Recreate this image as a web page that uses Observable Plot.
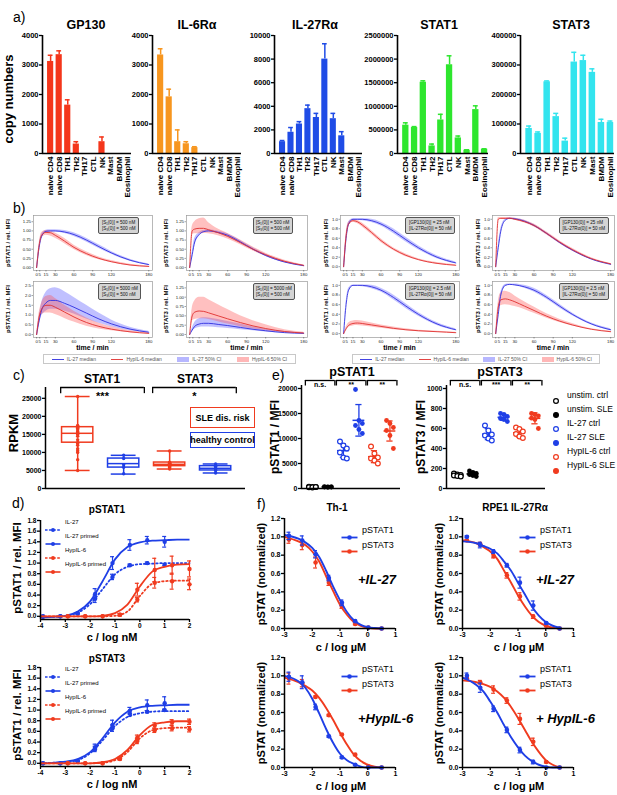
<!DOCTYPE html>
<html><head><meta charset="utf-8">
<script src="https://cdn.jsdelivr.net/npm/d3@7"></script>
<script src="https://cdn.jsdelivr.net/npm/@observablehq/plot@0.6"></script>
<style>
html,body{margin:0;padding:0;background:#fff;}
#fig{position:relative;width:617px;height:795px;overflow:hidden;background:#fff;}
.t{position:absolute;white-space:nowrap;}
</style></head><body><div id="fig"></div>
<script>
const FONT = "'Liberation Sans', Arial, Helvetica, sans-serif";
const BLUE = "#1f3fe6", RED = "#f03b1f";

// ---------- panel a data ----------
const cellTypes = ["naive CD4","naive CD8","TH1","TH2","TH17","CTL","NK","Mast","BMDM","Eosinophil"];
const gp130Copies = [3120,3350,1640,320,0,0,400,0,0,0];
const gp130Upper  = [3330,3480,1820,400,0,0,560,0,0,0];
const il6raCopies = [3340,1920,400,330,200,0,0,0,0,0];
const il6raUpper  = [3550,2180,800,400,230,0,0,0,0,0];
const il27raCopies = [1000,1800,2500,3800,3050,8000,2950,1500,0,0];
const il27raUpper  = [1100,2200,2700,4100,3400,9300,3400,1850,0,0];
const stat1Copies = [600000,550000,1510000,160000,710000,1880000,330000,70000,930000,90000];
const stat1Upper  = [650000,570000,1540000,200000,830000,2070000,370000,80000,1010000,100000];
const stat3Copies = [85000,68000,243000,125000,42000,310000,315000,275000,105000,105000];
const stat3Upper  = [93000,73000,246000,136000,52000,343000,333000,287000,116000,110000];

// ---------- panel b data ----------
const bTimes = [0,4,8,15,22,30,45,60,80,100,120,150,180];
const bTimeTicks = [0,5,15,30,60,90,120,180];
const b1IlMed = [0,0.55,0.85,0.99,1.0,1.0,0.97,0.9,0.75,0.57,0.4,0.2,0.08];
const b1IlLo  = [0,0.5,0.8,0.95,0.97,0.97,0.93,0.85,0.7,0.52,0.36,0.17,0.06];
const b1IlHi  = [0,0.6,0.9,1.02,1.03,1.03,1.01,0.95,0.8,0.62,0.44,0.23,0.1];
const b1HyMed = [0,0.6,0.88,0.96,0.95,0.88,0.72,0.55,0.38,0.25,0.16,0.07,0.03];
const b1HyLo  = [0,0.55,0.8,0.88,0.86,0.8,0.65,0.49,0.33,0.21,0.13,0.05,0.02];
const b1HyHi  = [0,0.65,0.95,1.01,1.0,0.94,0.79,0.61,0.43,0.29,0.19,0.09,0.04];
const b2IlMed = [0,0.35,0.7,0.9,0.98,1.0,0.96,0.88,0.7,0.5,0.33,0.15,0.05];
const b2IlLo  = [0,0.28,0.6,0.85,0.94,0.97,0.93,0.84,0.66,0.47,0.3,0.13,0.04];
const b2IlHi  = [0,0.42,0.8,0.95,1.01,1.03,0.99,0.92,0.74,0.54,0.36,0.17,0.06];
const b2HyMed = [0,1.0,1.05,1.07,1.07,1.03,0.95,0.85,0.68,0.5,0.35,0.17,0.06];
const b2HyLo  = [0,0.9,0.92,0.92,0.93,0.92,0.87,0.78,0.62,0.45,0.31,0.14,0.05];
const b2HyHi  = [0,1.12,1.25,1.33,1.35,1.22,1.05,0.93,0.75,0.56,0.39,0.2,0.07];
const b3IlMed = [0,0.6,0.9,1.0,1.0,1.0,0.97,0.9,0.75,0.57,0.4,0.2,0.08];
const b3IlLo  = [0,0.55,0.86,0.98,0.98,0.97,0.93,0.86,0.7,0.52,0.36,0.17,0.06];
const b3IlHi  = [0,0.65,0.94,1.01,1.01,1.01,1.0,0.94,0.8,0.62,0.44,0.23,0.1];
const b3HyMed = [0,0.65,0.9,0.97,0.95,0.88,0.72,0.55,0.37,0.24,0.15,0.07,0.03];
const b3HyLo  = [0,0.6,0.86,0.94,0.91,0.84,0.68,0.51,0.34,0.21,0.13,0.05,0.02];
const b3HyHi  = [0,0.7,0.94,0.99,0.98,0.92,0.76,0.59,0.4,0.27,0.17,0.09,0.04];
const b4IlMed = [0,0.4,0.75,0.98,1.02,1.01,0.96,0.87,0.7,0.51,0.35,0.16,0.05];
const b4IlLo  = [0,0.35,0.7,0.96,1.0,0.99,0.94,0.85,0.68,0.49,0.33,0.15,0.04];
const b4IlHi  = [0,0.45,0.8,1.0,1.03,1.02,0.98,0.89,0.72,0.53,0.37,0.17,0.06];
const b4HyMed = [0,1.0,1.02,1.02,1.02,1.0,0.95,0.87,0.7,0.52,0.36,0.17,0.06];
const b4HyLo  = [0,0.97,1.0,1.0,1.0,0.98,0.92,0.84,0.67,0.49,0.33,0.15,0.05];
const b4HyHi  = [0,1.03,1.04,1.04,1.04,1.02,0.98,0.9,0.73,0.55,0.39,0.19,0.07];
const b5IlMed = [0,0.7,1.25,1.62,1.75,1.75,1.6,1.4,1.1,0.8,0.55,0.28,0.12];
const b5IlLo  = [0,0.5,0.95,1.2,1.3,1.3,1.2,1.05,0.8,0.58,0.4,0.2,0.08];
const b5IlHi  = [0,0.9,1.6,2.15,2.35,2.4,2.2,1.9,1.5,1.1,0.75,0.38,0.17];
const b5HyMed = [0,0.9,1.3,1.5,1.5,1.4,1.15,0.9,0.62,0.42,0.28,0.14,0.06];
const b5HyLo  = [0,0.7,1.0,1.1,1.1,1.03,0.83,0.64,0.43,0.29,0.19,0.09,0.04];
const b5HyHi  = [0,1.1,1.6,1.95,2.0,1.85,1.5,1.2,0.85,0.58,0.4,0.2,0.09];
const b6IlMed = [0,0.12,0.22,0.28,0.3,0.3,0.27,0.24,0.19,0.14,0.1,0.05,0.03];
const b6IlLo  = [0,0.08,0.15,0.19,0.2,0.2,0.18,0.16,0.13,0.1,0.07,0.04,0.02];
const b6IlHi  = [0,0.17,0.32,0.42,0.45,0.44,0.4,0.35,0.28,0.2,0.14,0.08,0.04];
const b6HyMed = [0,0.5,0.6,0.63,0.62,0.58,0.5,0.42,0.32,0.23,0.16,0.08,0.04];
const b6HyLo  = [0,0.35,0.4,0.42,0.42,0.4,0.34,0.28,0.21,0.15,0.1,0.05,0.02];
const b6HyHi  = [0,0.7,0.9,1.0,1.0,0.93,0.8,0.67,0.5,0.37,0.26,0.13,0.06];
const b7IlMed = [0,0.6,0.9,1.0,1.0,1.0,0.97,0.9,0.75,0.57,0.4,0.2,0.08];
const b7IlLo  = [0,0.55,0.86,0.98,0.98,0.97,0.93,0.86,0.7,0.52,0.36,0.17,0.06];
const b7IlHi  = [0,0.65,0.94,1.01,1.01,1.01,1.0,0.94,0.8,0.62,0.44,0.23,0.1];
const b7HyMed = [0,0.1,0.17,0.21,0.22,0.21,0.18,0.15,0.11,0.08,0.06,0.04,0.02];
const b7HyLo  = [0,0.07,0.13,0.16,0.17,0.16,0.14,0.11,0.08,0.06,0.04,0.03,0.01];
const b7HyHi  = [0,0.13,0.22,0.26,0.27,0.26,0.22,0.18,0.14,0.1,0.07,0.05,0.03];
const b8IlMed = [0,0.4,0.8,1.0,1.02,1.01,0.97,0.9,0.75,0.57,0.4,0.2,0.08];
const b8IlLo  = [0,0.35,0.75,0.97,1.0,0.99,0.94,0.86,0.71,0.53,0.37,0.18,0.06];
const b8IlHi  = [0,0.45,0.85,1.02,1.03,1.03,1.0,0.94,0.79,0.61,0.43,0.22,0.1];
const b8HyMed = [0,0.55,0.7,0.72,0.7,0.66,0.57,0.48,0.36,0.26,0.18,0.09,0.04];
const b8HyLo  = [0,0.47,0.58,0.6,0.59,0.56,0.5,0.42,0.32,0.23,0.16,0.08,0.03];
const b8HyHi  = [0,0.65,0.84,0.88,0.85,0.78,0.66,0.55,0.41,0.3,0.21,0.1,0.05];

// ---------- panel c data ----------
const cGroups = ["STAT1 SLE","STAT1 healthy","STAT3 SLE","STAT3 healthy"];
const cMin = [5000,4000,5400,4300];
const cQ1  = [12700,5800,6200,5000];
const cMed = [15300,6900,6700,5600];
const cQ3  = [17000,8300,7200,6200];
const cMax = [25500,9200,10400,6800];
const cPoints = [
  [25500,17500,17300,17000,16700,16300,15800,15500,15000,14500,13500,12800,12500,12000,11000,10500,10000,8000,5000],
  [9200,8300,6600,5900,4100],
  [10400,7300,7100,7000,6900,6800,6700,6600,6500,6400,6300,6100,5800,5400],
  [6800,6200,5700,5400,5000,4300]
];
const cSignif = ["***","*"];

// ---------- panel e data ----------
const eGroups = ["unstim. ctrl","unstim. SLE","IL-27 ctrl","IL-27 SLE","HypIL-6 ctrl","HypIL-6 SLE"];
const ePSTAT1 = [
  [350,300,280,250,220,300],
  [380,340,300,280,250,320],
  [9400,8600,8000,7200,6200,6000],
  [19800,13600,13000,12600,11800,11000],
  [8400,7000,6200,6000,5600,5000],
  [13600,13000,12200,11600,10600,8000]
];
const ePSTAT3 = [
  [150,140,135,130,125,120],
  [175,160,150,140,130,120],
  [630,580,540,530,500,480],
  [750,740,720,700,690,670],
  [610,595,570,545,520,505],
  [750,740,727,703,690,600]
];
const eSig1 = ["n.s.","**","**"];
const eSig3 = ["n.s.","***","**"];

// ---------- panel d data ----------
const dDoseIL27 = [-3.9,-3.2,-2.5,-1.8,-1.1,-0.4,0.3,1.0];
const dDoseHyp  = [-2.9,-2.2,-1.5,-0.8,-0.1,0.6,1.3,2.0];
const dFitX = [-4,-3.5,-3,-2.5,-2,-1.5,-1,-0.5,0,0.5,1,1.5,2];
const d1IL27 = [0.0,0.0,0.05,0.33,0.74,0.96,1.0,0.97];
const d1IL27Err = [0.02,0.01,0.01,0.07,0.05,0.02,0.02,0.02];
const d1IL27P = [-0.01,0.0,0.06,0.42,1.0,1.34,1.43,1.40];
const d1IL27PErr = [0.01,0.01,0.01,0.1,0.12,0.1,0.07,0.1];
const d1Hyp = [0,0,0,0.03,0.31,0.63,0.66,0.6];
const d1HypErr = [0,0,0,0.02,0.04,0.1,0.15,0.1];
const d1HypP = [0,0,0,0.03,0.5,0.87,0.96,0.89];
const d1HypPErr = [0,0,0,0.02,0.12,0.22,0.17,0.15];
const d1FitIL27 = [-0.01,-0.01,0.01,0.07,0.23,0.51,0.79,0.93,0.98,0.99,1.0,1.0,1.0];
const d1FitIL27P = [-0.02,-0.01,0.01,0.09,0.28,0.66,1.07,1.3,1.39,1.42,1.43,1.44,1.44];
const d1FitHyp = [0,0,0,0,0,0,0.01,0.09,0.38,0.61,0.66,0.67,0.67];
const d1FitHypP = [0,0,0,0,0,0.01,0.06,0.22,0.56,0.84,0.93,0.97,0.98];
const d3IL27 = [0.0,0.0,0.04,0.27,0.66,0.93,0.97,1.0];
const d3IL27Err = [0.01,0.01,0.01,0.05,0.06,0.05,0.02,0.02];
const d3IL27P = [0.0,0.0,0.05,0.3,0.72,0.99,1.09,1.13];
const d3IL27PErr = [0.01,0.01,0.01,0.06,0.09,0.06,0.1,0.12];
const d3Hyp = [0,0,0,0.08,0.42,0.62,0.66,0.64];
const d3HypErr = [0,0,0,0.02,0.05,0.04,0.05,0.05];
const d3HypP = [0,0,0,0.09,0.48,0.71,0.77,0.78];
const d3HypPErr = [0,0,0,0.02,0.05,0.05,0.05,0.05];
const d3FitIL27 = [0,0.01,0.02,0.06,0.19,0.43,0.7,0.87,0.94,0.97,0.98,0.98,0.98];
const d3FitIL27P = [0,0.01,0.03,0.08,0.21,0.47,0.77,0.97,1.05,1.08,1.09,1.1,1.1];
const d3FitHyp = [0,0,0,0,0,0.01,0.06,0.21,0.47,0.62,0.66,0.67,0.67];
const d3FitHypP = [0,0,0,0,0,0.02,0.08,0.25,0.53,0.72,0.77,0.79,0.79];

// ---------- panel f data ----------
const fDose = [-2.84,-2.36,-1.88,-1.4,-0.93,-0.45,0.02,0.5];
const fFitX = [-3,-2.5,-2.25,-2,-1.75,-1.5,-1.25,-1,-0.75,-0.5,-0.25,0,0.25,0.5];
const f1S1 = [1.01,0.96,0.81,0.55,0.28,0.08,0.01,0.0];
const f1S1Err = [0.04,0.05,0.04,0.03,0.03,0.01,0,0];
const f1S3 = [0.97,0.91,0.72,0.5,0.24,0.05,0.01,0.0];
const f1S3Err = [0.04,0.05,0.06,0.03,0.02,0.01,0,0];
const f1FitS1 = [1.02,0.98,0.94,0.88,0.78,0.63,0.46,0.31,0.18,0.09,0.04,0.015,0.005,0];
const f1FitS3 = [1.0,0.95,0.91,0.84,0.73,0.57,0.41,0.26,0.15,0.07,0.03,0.01,0,0];
const f2S1 = [1.0,0.91,0.84,0.69,0.5,0.25,0.06,0.0];
const f2S1Err = [0.01,0.03,0.02,0.02,0.06,0.05,0.01,0];
const f2S3 = [0.96,0.92,0.79,0.58,0.35,0.13,0.03,0.0];
const f2S3Err = [0.01,0.02,0.02,0.03,0.04,0.02,0.01,0];
const f2FitS1 = [0.95,0.93,0.9,0.87,0.82,0.73,0.63,0.5,0.37,0.24,0.14,0.07,0.03,0.01];
const f2FitS3 = [0.96,0.93,0.89,0.84,0.76,0.63,0.5,0.36,0.24,0.14,0.07,0.03,0.01,0];
const f3S1 = [0.99,0.93,0.66,0.34,0.11,0.03,0.0,0.0];
const f3S1Err = [0.05,0.07,0.03,0.01,0.01,0.01,0,0];
const f3S3 = [0.97,0.92,0.77,0.57,0.36,0.14,0.01,0.0];
const f3S3Err = [0.06,0.04,0.01,0.01,0.01,0.01,0,0];
const f3FitS1 = [1.0,0.94,0.87,0.75,0.59,0.42,0.27,0.15,0.08,0.04,0.01,0,0,0];
const f3FitS3 = [0.98,0.93,0.89,0.84,0.76,0.65,0.52,0.38,0.25,0.14,0.07,0.03,0.01,0];
const f4S1 = [1.0,0.87,0.64,0.41,0.19,0.06,0.0,0.0];
const f4S1Err = [0.03,0.05,0.03,0.03,0.03,0.02,0,0];
const f4S3 = [0.97,0.93,0.85,0.73,0.53,0.28,0.06,0.0];
const f4S3Err = [0.01,0.02,0.04,0.03,0.06,0.04,0.01,0];
const f4FitS1 = [0.98,0.9,0.83,0.72,0.6,0.46,0.33,0.22,0.13,0.07,0.03,0.01,0,0];
const f4FitS3 = [0.95,0.93,0.91,0.88,0.83,0.76,0.66,0.54,0.41,0.28,0.17,0.08,0.03,0];

// ================= helpers =================
const root = document.getElementById("fig");

function txt(s, x, y, o = {}) {
  const d = document.createElement("div");
  d.className = "t";
  d.textContent = s;
  d.style.left = x + "px";
  d.style.top = y + "px";
  d.style.font = `${o.italic ? "italic" : "normal"} ${o.weight ?? "bold"} ${o.size ?? 10}px ${FONT}`;
  d.style.lineHeight = "1";
  d.style.color = o.color || "#000";
  const ax = o.anchor === "start" ? "0" : o.anchor === "end" ? "-100%" : "-50%";
  d.style.transform = `translate(${ax},-50%)` + (o.rotate ? ` rotate(${o.rotate}deg)` : "");
  root.appendChild(d);
  return d;
}

function chart(box, opts) {
  const [mt, mr, mb, ml] = box.m || [8, 8, 8, 8];
  const svg = Plot.plot({
    width: box.x1 - box.x0 + ml + mr,
    height: box.y1 - box.y0 + mt + mb,
    marginTop: mt, marginRight: mr, marginBottom: mb, marginLeft: ml,
    ...opts,
    style: Object.assign({background: "transparent", overflow: "visible", fontFamily: FONT, fontWeight: "bold", fontSize: "8px", color: "black"}, opts.style || {})
  });
  svg.style.position = "absolute";
  svg.style.left = (box.x0 - ml) + "px";
  svg.style.top = (box.y0 - mt) + "px";
  root.appendChild(svg);
  return svg;
}

function gpAxes(xd, yd, xt, yt, xf, yf, fs) {
  const m = [
    Plot.ruleX([xd[0]], {strokeWidth: 1.5}),
    Plot.ruleY([yd[0]], {strokeWidth: 1.5}),
    Plot.axisY({ticks: yt, tickFormat: yf, tickSize: 3, tickPadding: 1, strokeWidth: 1.3, label: null, fontSize: fs})
  ];
  if (xt) m.push(Plot.axisX({ticks: xt, tickFormat: xf, tickSize: 3, tickPadding: 1, strokeWidth: 1.3, label: null, fontSize: fs}));
  else m.push(Plot.axisX({ticks: [], label: null}));
  return m;
}

// ================= panel a =================
txt("a)", 13, 17, {size: 14, weight: "normal", anchor: "start"});
txt("copy numbers", 8, 99, {size: 13, rotate: -90});
const aCharts = [
  {title: "GP130", vals: gp130Copies, up: gp130Upper, color: "#f4361b", max: 4000, step: 1000, x0: 42, x1: 131, tx: 86},
  {title: "IL-6Rα", vals: il6raCopies, up: il6raUpper, color: "#f7961f", max: 4000, step: 1000, x0: 152, x1: 241, tx: 197},
  {title: "IL-27Rα", vals: il27raCopies, up: il27raUpper, color: "#1f4ce6", max: 10000, step: 2000, x0: 274, x1: 362, tx: 315},
  {title: "STAT1", vals: stat1Copies, up: stat1Upper, color: "#2ee62e", max: 2500000, step: 500000, x0: 397, x1: 488, tx: 439},
  {title: "STAT3", vals: stat3Copies, up: stat3Upper, color: "#33e4ee", max: 400000, step: 100000, x0: 520, x1: 614, tx: 571}
];
for (const a of aCharts) {
  const rows = cellTypes.map((c, i) => ({i, v: a.vals[i], u: a.up[i]}));
  const withErr = rows.filter(r => r.u > r.v);
  const xd = [-0.95, 9.45], yd = [0, a.max];
  chart({x0: a.x0, x1: a.x1, y0: 35, y1: 153, m: [4, 4, 55, 44]}, {
    x: {domain: xd}, y: {domain: yd},
    marks: [
      Plot.rect(rows, {x1: r => r.i - 0.36, x2: r => r.i + 0.36, y1: 0, y2: "v", fill: a.color}),
      Plot.ruleX(withErr, {x: "i", y1: "v", y2: "u", stroke: a.color, strokeWidth: 1.5}),
      Plot.ruleY(withErr, {y: "u", x1: r => r.i - 0.28, x2: r => r.i + 0.28, stroke: a.color, strokeWidth: 1.5}),
      Plot.ruleX([xd[0]], {strokeWidth: 1.6}),
      Plot.ruleY([0], {strokeWidth: 1.6}),
      Plot.axisY({ticks: d3.range(0, a.max + 1, a.step), tickFormat: d3.format("d"), tickSize: 3, tickPadding: 1, strokeWidth: 1.3, label: null, fontSize: 7.5}),
      Plot.axisX({ticks: d3.range(10), tickFormat: i => cellTypes[i], tickRotate: -90, tickSize: 0, tickPadding: 3, label: null, fontSize: 8})
    ]
  });
  txt(a.title, a.tx, 25, {size: 12.5});
}

// ================= panel b =================
txt("b)", 13, 208, {size: 14, weight: "normal", anchor: "start"});
const bCols = [[33,152],[186,307],[340,459],[492,614]];
const bRows = [[215,270],[281,337]];
const bLabX = [8,166,326,478];
const bY = {
  q: {domain: [-0.08, 1.42], ticks: [0,0.25,0.5,0.75,1,1.25], fmt: ".2f"},
  u: {domain: [-0.08, 1.08], ticks: [0,0.2,0.4,0.6,0.8,1], fmt: ".1f"},
  h: {domain: [-0.15, 2.72], ticks: [0,0.5,1,1.5,2,2.5], fmt: ".1f"}
};
const noteS500 = ["[S₁(0)] = 500 nM", "[S₃(0)] = 500 nM"];
const noteS5000 = ["[S₁(0)] = 5000 nM", "[S₃(0)] = 500 nM"];
const noteG25 = ["[GP130(0)] = 25 nM", "[IL-27Rα(0)] = 50 nM"];
const noteG2 = ["[GP130(0)] = 2.5 nM", "[IL-27Rα(0)] = 50 nM"];
const bPanels = [
  {r:0,c:0,y:"q",lab:"pSTAT1 / rel. MFI",note:noteS500,il:[b1IlLo,b1IlMed,b1IlHi],hy:[b1HyLo,b1HyMed,b1HyHi]},
  {r:0,c:1,y:"q",lab:"pSTAT3 / rel. MFI",note:noteS500,il:[b2IlLo,b2IlMed,b2IlHi],hy:[b2HyLo,b2HyMed,b2HyHi]},
  {r:0,c:2,y:"u",lab:"pSTAT1 / rel. MFI",note:noteG25,il:[b3IlLo,b3IlMed,b3IlHi],hy:[b3HyLo,b3HyMed,b3HyHi]},
  {r:0,c:3,y:"u",lab:"pSTAT3 / rel. MFI",note:noteG25,il:[b4IlLo,b4IlMed,b4IlHi],hy:[b4HyLo,b4HyMed,b4HyHi]},
  {r:1,c:0,y:"h",lab:"pSTAT1 / rel. MFI",note:noteS5000,il:[b5IlLo,b5IlMed,b5IlHi],hy:[b5HyLo,b5HyMed,b5HyHi]},
  {r:1,c:1,y:"q",lab:"pSTAT3 / rel. MFI",note:noteS5000,il:[b6IlLo,b6IlMed,b6IlHi],hy:[b6HyLo,b6HyMed,b6HyHi]},
  {r:1,c:2,y:"u",lab:"pSTAT1 / rel. MFI",note:noteG2,il:[b7IlLo,b7IlMed,b7IlHi],hy:[b7HyLo,b7HyMed,b7HyHi]},
  {r:1,c:3,y:"u",lab:"pSTAT3 / rel. MFI",note:noteG2,il:[b8IlLo,b8IlMed,b8IlHi],hy:[b8HyLo,b8HyMed,b8HyHi]}
];
const B_BLUE = "#2f2fe0", B_RED = "#e0302f";
const bXd = [-5, 186];
for (const p of bPanels) {
  const [x0, x1] = bCols[p.c], [y0, y1] = bRows[p.r];
  const ys = bY[p.y];
  const il = bTimes.map((t, i) => ({t, lo: p.il[0][i], med: p.il[1][i], hi: p.il[2][i]}));
  const hy = bTimes.map((t, i) => ({t, lo: p.hy[0][i], med: p.hy[1][i], hi: p.hy[2][i]}));
  chart({x0, x1, y0, y1, m: [2, 2, 8, 16]}, {
    x: {domain: bXd}, y: {domain: ys.domain},
    style: {fontWeight: "normal", fontSize: "4.3px", color: "#222"},
    marks: [
      Plot.areaY(il, {x: "t", y1: "lo", y2: "hi", fill: "#4a4aff", fillOpacity: 0.35, curve: "monotone-x"}),
      Plot.areaY(hy, {x: "t", y1: "lo", y2: "hi", fill: "#ff4a4a", fillOpacity: 0.35, curve: "monotone-x"}),
      Plot.lineY(il, {x: "t", y: "med", stroke: B_BLUE, strokeWidth: 0.9, curve: "monotone-x"}),
      Plot.lineY(hy, {x: "t", y: "med", stroke: B_RED, strokeWidth: 0.9, curve: "monotone-x"}),
      Plot.frame({stroke: "#9a9a9a", strokeWidth: 0.7}),
      Plot.axisX({ticks: bTimeTicks, tickFormat: d => String(d), tickSize: 1.5, tickPadding: 1, label: null, stroke: "#444", strokeWidth: 0.5}),
      Plot.axisY({ticks: ys.ticks, tickFormat: d3.format(ys.fmt), tickSize: 1.5, tickPadding: 1, label: null, stroke: "#444", strokeWidth: 0.5})
    ]
  });
  txt(p.lab, bLabX[p.c], (y0 + y1) / 2, {size: 6, rotate: -90});
  if (p.r === 1) txt("time / min", (x0 + x1) / 2, 347, {size: 7});
  // annotation box anchored at t = 100
  const nb = document.createElement("div");
  const L = x0 + (100 - bXd[0]) / (bXd[1] - bXd[0]) * (x1 - x0);
  nb.style.cssText = `position:absolute;left:${L}px;top:${y0 + 2}px;background:#d4d4d4;border:0.6px solid #555;border-radius:2px;padding:1.5px 2.5px;font:normal 4.6px ${FONT};line-height:6px;color:#111;white-space:nowrap;`;
  for (const line of p.note) { const ln = document.createElement("div"); ln.textContent = line; nb.appendChild(ln); }
  root.appendChild(nb);
}
function bLegend(x, y, w) {
  const d = document.createElement("div");
  d.style.cssText = `position:absolute;left:${x}px;top:${y}px;width:${w}px;height:10px;border:0.7px solid #c8c8c8;box-sizing:border-box;display:flex;align-items:center;justify-content:space-around;font:normal 5px ${FONT};color:#555;white-space:nowrap;`;
  const items = [
    ["IL-27 median", `<line x1="0" y1="2.5" x2="12" y2="2.5" stroke="${B_BLUE}" stroke-width="0.9"/>`],
    ["HypIL-6 median", `<line x1="0" y1="2.5" x2="12" y2="2.5" stroke="${B_RED}" stroke-width="0.9"/>`],
    ["IL-27 50% CI", `<rect x="0" y="0" width="12" height="5" fill="#4a4aff" fill-opacity="0.4"/>`],
    ["HypIL-6 50% CI", `<rect x="0" y="0" width="12" height="5" fill="#ff4a4a" fill-opacity="0.4"/>`]
  ];
  for (const [lab, sw] of items) {
    const s = document.createElement("span");
    s.style.cssText = "display:flex;align-items:center;";
    s.innerHTML = `<svg width="12" height="5" style="margin-right:3px">${sw}</svg>`;
    const t = document.createElement("span"); t.textContent = lab; s.appendChild(t);
    d.appendChild(s);
  }
  root.appendChild(d);
}
bLegend(43, 354, 253);
bLegend(352, 354, 248);

// ================= panel c =================
txt("c)", 13, 375, {size: 14, weight: "normal", anchor: "start"});
txt("RPKM", 13, 433, {size: 13, rotate: -90});
{
  const xd = [-0.7, 3.65], yd = [0, 28000];
  const col = i => (i % 2 === 0 ? RED : BLUE);
  const g = cGroups.map((name, i) => ({i, lo: cMin[i], q1: cQ1[i], med: cMed[i], q3: cQ3[i], hi: cMax[i]}));
  const pts = cPoints.flatMap((arr, i) => arr.map(v => ({i, v})));
  const br = cSignif.map((s, k) => ({a: 2 * k, b: 2 * k + 1, s}));
  chart({x0: 45, x1: 245, y0: 387, y1: 488, m: [4, 4, 4, 40]}, {
    x: {domain: xd}, y: {domain: yd},
    marks: [
      Plot.ruleX(g, {x: "i", y1: "lo", y2: "q1", stroke: d => col(d.i), strokeWidth: 1.5}),
      Plot.ruleX(g, {x: "i", y1: "q3", y2: "hi", stroke: d => col(d.i), strokeWidth: 1.5}),
      Plot.ruleY(g, {y: "lo", x1: d => d.i - 0.27, x2: d => d.i + 0.27, stroke: d => col(d.i), strokeWidth: 1.5}),
      Plot.ruleY(g, {y: "hi", x1: d => d.i - 0.27, x2: d => d.i + 0.27, stroke: d => col(d.i), strokeWidth: 1.5}),
      Plot.rect(g, {x1: d => d.i - 0.34, x2: d => d.i + 0.34, y1: "q1", y2: "q3", fill: "white", stroke: d => col(d.i), strokeWidth: 1.5}),
      Plot.ruleY(g, {y: "med", x1: d => d.i - 0.34, x2: d => d.i + 0.34, stroke: d => col(d.i), strokeWidth: 1.5}),
      Plot.dot(pts, {x: "i", y: "v", r: 1.7, fill: d => col(d.i)}),
      Plot.ruleY(br, {y: 28000, x1: d => d.a - 0.37, x2: d => d.b + 0.45, strokeWidth: 1.3}),
      Plot.ruleX(br, {x: d => d.a - 0.37, y1: 28000, y2: 26300, strokeWidth: 1.3}),
      Plot.ruleX(br, {x: d => d.b + 0.45, y1: 28000, y2: 26300, strokeWidth: 1.3}),
      Plot.text(br, {x: d => (d.a + d.b) / 2 + 0.04, y: 25600, text: "s", fontSize: 11}),
      ...gpAxes(xd, yd, null, d3.range(0, 25001, 5000), null, d3.format("d"), 7)
    ]
  });
  txt("STAT1", 102, 379, {size: 12});
  txt("STAT3", 195, 379, {size: 12});
  const lb = (x, y, w, h, c, s) => {
    const d = document.createElement("div");
    d.textContent = s;
    d.style.cssText = `position:absolute;left:${x}px;top:${y}px;width:${w}px;height:${h}px;border:1.6px solid ${c};box-sizing:border-box;display:flex;align-items:center;justify-content:center;font:bold 9px ${FONT};white-space:nowrap;`;
    root.appendChild(d);
  };
  lb(190, 407, 65, 21, RED, "SLE dis. risk");
  lb(190, 432, 65, 16, BLUE, "healthy control");
}

// ================= panel e =================
txt("e)", 272, 375, {size: 14, weight: "normal", anchor: "start"});
function eChart(vals, sig, x0, x1, ymax, ytop, tick, brY, legY, title, titleX, ylab, ylabX) {
  const xd = [-0.7, 5.68], yd = [0, ytop];
  const col = g => (g < 2 ? "#000" : g < 4 ? BLUE : RED);
  const pts = vals.flatMap((arr, g) => arr.map((v, k) => ({g, v, k})));
  const jx = d => d.g + ((d.k % 3) - 1) * 0.22;
  const st = vals.map((arr, g) => ({g, m: d3.mean(arr), s: d3.deviation(arr)}));
  const br = sig.map((s, k) => ({a: 2 * k, b: 2 * k + 1, s}));
  chart({x0, x1, y0: 488 - (488 - 388) * ytop / ymax, y1: 488, m: [14, 4, 4, 40]}, {
    x: {domain: xd}, y: {domain: yd},
    marks: [
      Plot.ruleX(st, {x: "g", y1: d => d.m - d.s, y2: d => d.m + d.s, stroke: d => col(d.g), strokeWidth: 1.3}),
      Plot.ruleY(st, {y: d => d.m + d.s, x1: d => d.g - 0.2, x2: d => d.g + 0.2, stroke: d => col(d.g), strokeWidth: 1.3}),
      Plot.ruleY(st, {y: d => d.m - d.s, x1: d => d.g - 0.2, x2: d => d.g + 0.2, stroke: d => col(d.g), strokeWidth: 1.3}),
      Plot.ruleY(st, {y: "m", x1: d => d.g - 0.38, x2: d => d.g + 0.38, stroke: d => col(d.g), strokeWidth: 1.5}),
      Plot.dot(pts.filter(d => d.g % 2 === 0), {x: jx, y: "v", r: 2.4, stroke: d => col(d.g), fill: "white", strokeWidth: 1.2}),
      Plot.dot(pts.filter(d => d.g % 2 === 1), {x: jx, y: "v", r: 2.4, fill: d => col(d.g)}),
      Plot.ruleY(br, {y: brY[0], x1: d => d.a - 0.45, x2: d => d.b + 0.45, strokeWidth: 1.3}),
      Plot.ruleX(br, {x: d => d.a - 0.45, y1: brY[0], y2: brY[1], strokeWidth: 1.3}),
      Plot.ruleX(br, {x: d => d.b + 0.45, y1: brY[0], y2: brY[1], strokeWidth: 1.3}),
      Plot.text(br, {x: d => (d.a + d.b) / 2, y: brY[2], text: "s", fontSize: d => 7, lineAnchor: "middle"}),
      ...gpAxes(xd, yd, null, d3.range(0, ymax + 1, tick), null, d3.format("d"), 7)
    ]
  });
  txt(title, titleX, 372, {size: 12.5});
  txt(ylab, ylabX, 437, {size: 12, rotate: -90});
}
eChart(ePSTAT1, eSig1, 301, 400, 20000, 20600, 5000, [21600, 20500, 20700], 0, "pSTAT1", 352, "pSTAT1 / MFI", 275);
eChart(ePSTAT3, eSig3, 446, 545, 1000, 1030, 200, [1080, 1025, 1035], 0, "pSTAT3", 500, "pSTAT3 / MFI", 421);
{
  const items = [
    ["unstim. ctrl", "#000", false], ["unstim. SLE", "#000", true],
    ["IL-27 ctrl", BLUE, false], ["IL-27 SLE", BLUE, true],
    ["HypIL-6 ctrl", RED, false], ["HypIL-6 SLE", RED, true]
  ];
  const ys = [395, 409, 423, 437, 451, 465];
  items.forEach(([lab, c, filled], i) => {
    const s = document.createElement("div");
    s.style.cssText = `position:absolute;left:552px;top:${ys[i] - 4}px;`;
    s.innerHTML = `<svg width="8" height="8"><circle cx="4" cy="4" r="2.4" fill="${filled ? c : "white"}" stroke="${c}" stroke-width="1.2"/></svg>`;
    root.appendChild(s);
    txt(lab, 567, ys[i], {size: 8.5, weight: "normal", anchor: "start"});
  });
}

// ================= panel d =================
txt("d)", 12, 503, {size: 14, weight: "normal", anchor: "start"});
function series(xs, ys, es) { return xs.map((x, i) => ({x, y: ys[i], e: es ? es[i] : 0})); }
function doseMarks(pts, fit, color, capW, dash, r = 2.2, sw = 1.8) {
  const eb = pts.filter(p => p.e > 0.005);
  return [
    Plot.line(fit, {x: "x", y: "y", stroke: color, strokeWidth: sw, curve: "monotone-x", strokeDasharray: dash, strokeLinecap: dash ? "round" : "butt"}),
    Plot.ruleX(eb, {x: "x", y1: p => p.y - p.e, y2: p => p.y + p.e, stroke: color, strokeWidth: 1.2}),
    Plot.ruleY(eb, {y: p => p.y + p.e, x1: p => p.x - capW, x2: p => p.x + capW, stroke: color, strokeWidth: 1.2}),
    Plot.ruleY(eb, {y: p => p.y - p.e, x1: p => p.x - capW, x2: p => p.x + capW, stroke: color, strokeWidth: 1.2}),
    Plot.dot(pts, {x: "x", y: "y", r, fill: color})
  ];
}
function dChart(y0, title, titleY, S) {
  const xd = [-4, 2], yd = [-0.06, 1.8];
  chart({x0: 40, x1: 189, y0, y1: y0 + 99, m: [4, 6, 16, 22]}, {
    x: {domain: xd}, y: {domain: yd},
    marks: [
      ...doseMarks(series(dDoseIL27, S.il, S.ilE), series(dFitX, S.fil), BLUE, 0.08, "1.5,2.6"),
      ...doseMarks(series(dDoseIL27, S.ilp, S.ilpE), series(dFitX, S.filp), BLUE, 0.08, null),
      ...doseMarks(series(dDoseHyp, S.hy, S.hyE), series(dFitX, S.fhy), RED, 0.08, "1.5,2.6"),
      ...doseMarks(series(dDoseHyp, S.hyp, S.hypE), series(dFitX, S.fhyp), RED, 0.08, null),
      ...gpAxes(xd, yd, d3.range(-4, 2.1, 1), d3.range(0, 1.81, 0.2), d => String(d), d3.format(".1f"), 6.5)
    ]
  });
  txt(title, 107, titleY, {size: 10});
  txt("c / log nM", 112, y0 + 117, {size: 11});
  txt("pSTAT1 / rel. MFI", 18, y0 + 48, {size: 11.5, rotate: -90});
  const items = [["IL-27", BLUE, true], ["IL-27 primed", BLUE, false], ["HypIL-6", RED, true], ["HypIL-6 primed", RED, false]];
  items.forEach(([lab, c, dotted], i) => {
    const yy = y0 + 2 + i * 14;
    const s = document.createElement("div");
    s.style.cssText = `position:absolute;left:45px;top:${yy - 3}px;`;
    s.innerHTML = `<svg width="16" height="6"><line x1="0.5" y1="3" x2="15.5" y2="3" stroke="${c}" stroke-width="1.6" ${dotted ? 'stroke-dasharray="1.5,2.6" stroke-linecap="round"' : ""}/><circle cx="8" cy="3" r="2" fill="${c}"/></svg>`;
    root.appendChild(s);
    txt(lab, 65, yy, {size: 6, weight: "normal", anchor: "start"});
  });
}
dChart(520, "pSTAT1", 510, {il: d1IL27, ilE: d1IL27Err, ilp: d1IL27P, ilpE: d1IL27PErr, hy: d1Hyp, hyE: d1HypErr, hyp: d1HypP, hypE: d1HypPErr,
  fil: d1FitIL27, filp: d1FitIL27P, fhy: d1FitHyp, fhyp: d1FitHypP});
dChart(667, "pSTAT3", 659, {il: d3IL27, ilE: d3IL27Err, ilp: d3IL27P, ilpE: d3IL27PErr, hy: d3Hyp, hyE: d3HypErr, hyp: d3HypP, hypE: d3HypPErr,
  fil: d3FitIL27, filp: d3FitIL27P, fhy: d3FitHyp, fhyp: d3FitHypP});

// ================= panel f =================
txt("f)", 257, 504, {size: 14, weight: "normal", anchor: "start"});
function fChart(x0, y0, S, title, stim) {
  const xd = [-3, 1], yd = [0, 1.2];
  chart({x0, x1: x0 + 111, y0, y1: y0 + 110, m: [4, 6, 16, 22]}, {
    x: {domain: xd}, y: {domain: yd},
    marks: [
      ...doseMarks(series(fDose, S.s3, S.s3e), series(fFitX, S.f3), RED, 0.07, null, 2.3, 1.9),
      ...doseMarks(series(fDose, S.s1, S.s1e), series(fFitX, S.f1), BLUE, 0.07, null, 2.3, 1.9),
      ...gpAxes(xd, yd, d3.range(-3, 1.1, 1), d3.range(0, 1.21, 0.2), d => String(d), d3.format(".1f"), 7)
    ]
  });
  if (title) txt(title, x0 + 53, 508, {size: 10});
  txt("c / log µM", x0 + 57, y0 + 129, {size: 11});
  txt("pSTAT (normalized)", x0 - 23, y0 + 56, {size: 11, rotate: -90});
  [["pSTAT1", BLUE], ["pSTAT3", RED]].forEach(([lab, c], i) => {
    const yy = y0 + 12 + i * 14.5;
    const s = document.createElement("div");
    s.style.cssText = `position:absolute;left:${x0 + 57}px;top:${yy - 3.5}px;`;
    s.innerHTML = `<svg width="17" height="7"><line x1="0.5" y1="3.5" x2="16.5" y2="3.5" stroke="${c}" stroke-width="1.8"/><circle cx="8.5" cy="3.5" r="2.3" fill="${c}"/></svg>`;
    root.appendChild(s);
    txt(lab, x0 + 78, yy, {size: 9, weight: "normal", anchor: "start"});
  });
  txt(stim, x0 + 74, y0 + 61, {size: 13, italic: true, anchor: "start"});
}
fChart(284, 518, {s1: f1S1, s1e: f1S1Err, s3: f1S3, s3e: f1S3Err, f1: f1FitS1, f3: f1FitS3}, "Th-1", "+IL-27");
fChart(462, 518, {s1: f2S1, s1e: f2S1Err, s3: f2S3, s3e: f2S3Err, f1: f2FitS1, f3: f2FitS3}, "RPE1 IL-27Rα", "+IL-27");
fChart(284, 657, {s1: f3S1, s1e: f3S1Err, s3: f3S3, s3e: f3S3Err, f1: f3FitS1, f3: f3FitS3}, null, "+HypIL-6");
fChart(462, 657, {s1: f4S1, s1e: f4S1Err, s3: f4S3, s3e: f4S3Err, f1: f4FitS1, f3: f4FitS3}, null, "+ HypIL-6");
</script></body></html>
